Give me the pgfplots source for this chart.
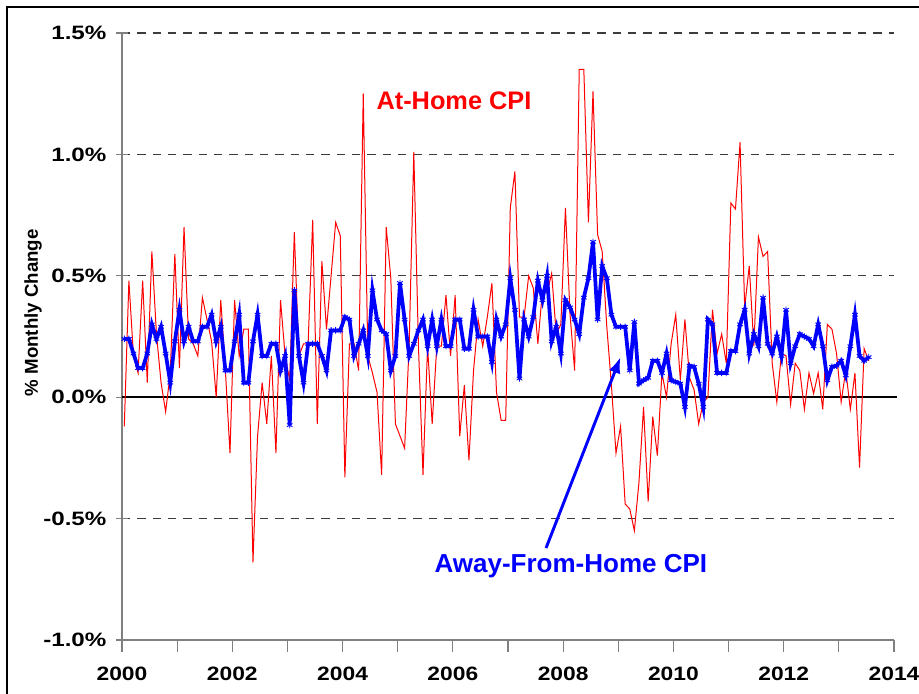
\documentclass[border=0pt]{standalone}
\usepackage{pgfplots}
\pgfplotsset{compat=1.18}
\usepackage{pgfplotstable}
\usepackage{graphicx}
\usepackage{fontspec}
\setmainfont{Liberation Sans}
\usetikzlibrary{arrows.meta}

% m = month index (0 = Jan 2000), away = Away-From-Home CPI, home = At-Home CPI (% monthly change)
\pgfplotstableread{
m away home
0 0.24 -0.12
1 0.24 0.48
2 0.18 0.17
3 0.12 0.10
4 0.12 0.48
5 0.18 0.06
6 0.30 0.60
7 0.24 0.26
8 0.29 0.06
9 0.18 -0.06
10 0.06 0.10
11 0.23 0.59
12 0.36 0.12
13 0.23 0.70
14 0.29 0.24
15 0.23 0.22
16 0.23 0.17
17 0.29 0.41
18 0.29 0.32
19 0.34 0.23
20 0.23 0.00
21 0.29 0.40
22 0.11 0.11
23 0.11 -0.23
24 0.23 0.40
25 0.34 0.17
26 0.06 0.28
27 0.06 0.28
28 0.23 -0.68
29 0.34 -0.16
30 0.17 0.06
31 0.17 -0.11
32 0.22 0.17
33 0.22 -0.23
34 0.11 0.40
35 0.17 0.17
36 -0.115 0.07
37 0.44 0.68
38 0.17 0.17
39 0.06 0.22
40 0.22 0.22
41 0.22 0.73
42 0.22 -0.11
43 0.17 0.56
44 0.11 0.28
45 0.275 0.50
46 0.275 0.72
47 0.275 0.665
48 0.33 -0.33
49 0.32 0.22
50 0.17 0.22
51 0.22 0.11
52 0.275 1.25
53 0.17 0.17
54 0.44 0.10
55 0.32 0.02
56 0.275 -0.32
57 0.26 0.70
58 0.11 0.49
59 0.17 -0.11
60 0.47 -0.16
61 0.32 -0.21
62 0.17 0.22
63 0.22 1.01
64 0.275 0.22
65 0.32 -0.32
66 0.21 0.21
67 0.32 -0.11
68 0.21 0.21
69 0.32 0.21
70 0.21 0.42
71 0.21 0.17
72 0.32 0.42
73 0.32 -0.16
74 0.20 0.05
75 0.20 -0.26
76 0.36 0.11
77 0.25 0.32
78 0.25 0.21
79 0.25 0.33
80 0.145 0.47
81 0.32 0.02
82 0.25 -0.095
83 0.30 -0.095
84 0.49 0.78
85 0.36 0.93
86 0.077 0.33
87 0.32 0.33
88 0.25 0.50
89 0.33 0.45
90 0.48 0.22
91 0.40 0.44
92 0.50 0.43
93 0.23 0.51
94 0.29 0.26
95 0.18 0.30
96 0.40 0.78
97 0.37 0.34
98 0.32 0.11
99 0.26 1.35
100 0.41 1.35
101 0.49 0.72
102 0.64 1.26
103 0.32 0.67
104 0.54 0.60
105 0.49 0.29
106 0.34 0.05
107 0.29 -0.23
108 0.29 -0.12
109 0.29 -0.44
110 0.11 -0.46
111 0.31 -0.55
112 0.056 -0.35
113 0.07 -0.04
114 0.08 -0.43
115 0.15 -0.08
116 0.15 -0.24
117 0.10 0.10
118 0.18 0.00
119 0.07 0.22
120 0.063 0.34
121 0.056 0.07
122 -0.04 0.32
123 0.13 0.08
124 0.125 0.03
125 0.056 -0.11
126 -0.04 -0.02
127 0.32 0.00
128 0.30 0.36
129 0.10 0.18
130 0.10 0.26
131 0.10 0.14
132 0.19 0.80
133 0.19 0.775
134 0.30 1.05
135 0.36 0.37
136 0.18 0.54
137 0.26 0.21
138 0.21 0.66
139 0.41 0.58
140 0.22 0.60
141 0.18 0.14
142 0.25 -0.02
143 0.17 0.18
144 0.36 0.17
145 0.14 -0.03
146 0.21 0.14
147 0.26 0.11
148 0.25 -0.05
149 0.24 0.10
150 0.21 0.015
151 0.30 0.10
152 0.21 -0.05
153 0.07 0.30
154 0.125 0.28
155 0.13 0.18
156 0.15 -0.02
157 0.09 0.11
158 0.21 -0.05
159 0.34 0.10
160 0.17 -0.29
161 0.15 0.20
162 0.165 0.15
}\cpidata

\definecolor{axgray}{RGB}{128,128,128}
\definecolor{griddark}{RGB}{60,60,60}

\begin{document}
\begin{tikzpicture}
\useasboundingbox (-91.5pt,-39.75pt) rectangle (597.75pt,480pt);
\draw[black, line width=1.5pt] (-86.25pt,-45pt) -- (-86.25pt,475pt) -- (610pt,475pt);
\begin{axis}[
  at={(0,0)}, anchor=south west,
  scale only axis, width=579pt, height=455.25pt,
  xmin=2000, xmax=2014, ymin=-1.0, ymax=1.5,
  axis lines*=left,
  axis line style={axgray, line width=1.1pt},
  xtick={2000,2001,...,2014},
  xticklabels={\scalebox{1.18}[1]{2000},,\scalebox{1.18}[1]{2002},,\scalebox{1.18}[1]{2004},,\scalebox{1.18}[1]{2006},,\scalebox{1.18}[1]{2008},,\scalebox{1.18}[1]{2010},,\scalebox{1.18}[1]{2012},,\scalebox{1.18}[1]{2014}},
  ytick={-1,-0.5,0,0.5,1,1.5},
  yticklabels={\scalebox{1.25}[1]{-1.0\%},\scalebox{1.25}[1]{-0.5\%},\scalebox{1.25}[1]{0.0\%},\scalebox{1.25}[1]{0.5\%},\scalebox{1.25}[1]{1.0\%},\scalebox{1.25}[1]{1.5\%}},
  x tick style={axgray, line width=0.8pt},
  y tick style={axgray, line width=0.8pt},
  xtick align=outside, ytick align=center,
  major tick length=9pt,
  x tick label style={font=\bfseries\fontsize{14.5}{14.5}\selectfont, anchor=north, inner sep=0pt, yshift=-11pt},
  y tick label style={font=\bfseries\fontsize{14.5}{14.5}\selectfont, anchor=east, inner sep=0pt, xshift=-7pt},
  ymajorgrids,
  grid style={griddark, line width=0.9pt, dash pattern=on 6.2pt off 5.3pt},
  ylabel={\% Monthly Change},
  ylabel style={font=\bfseries\fontsize{14}{14}\selectfont, at={(axis description cs:-0.1153,0.539)}, anchor=center},
  clip=false,
]
\addplot[black, line width=1.5pt, forget plot] coordinates {(2000,0) (2014.05,0)};
\addplot[red, line width=0.75pt, mark=none] table[x expr=2000+(\thisrow{m}+0.5)/12, y=home] {\cpidata};
\addplot[blue, line width=2.8pt, mark=asterisk, mark size=2.4pt, mark options={line width=0.7pt, solid}] table[x expr=2000+(\thisrow{m}+0.5)/12, y=away] {\cpidata};
\node[red, font=\bfseries\fontsize{19}{19}\selectfont] at (axis cs:2006.02,1.222) {At-Home CPI};
\node[blue, font=\bfseries\fontsize{19.5}{19.5}\selectfont] at (axis cs:2008.14,-0.695) {Away-From-Home CPI};
\draw[blue, line width=2.2pt, -{Latex[length=12pt,width=9pt]}] (axis cs:2007.69,-0.621) -- (axis cs:2009.04,0.165);
\end{axis}
\end{tikzpicture}
\end{document}
